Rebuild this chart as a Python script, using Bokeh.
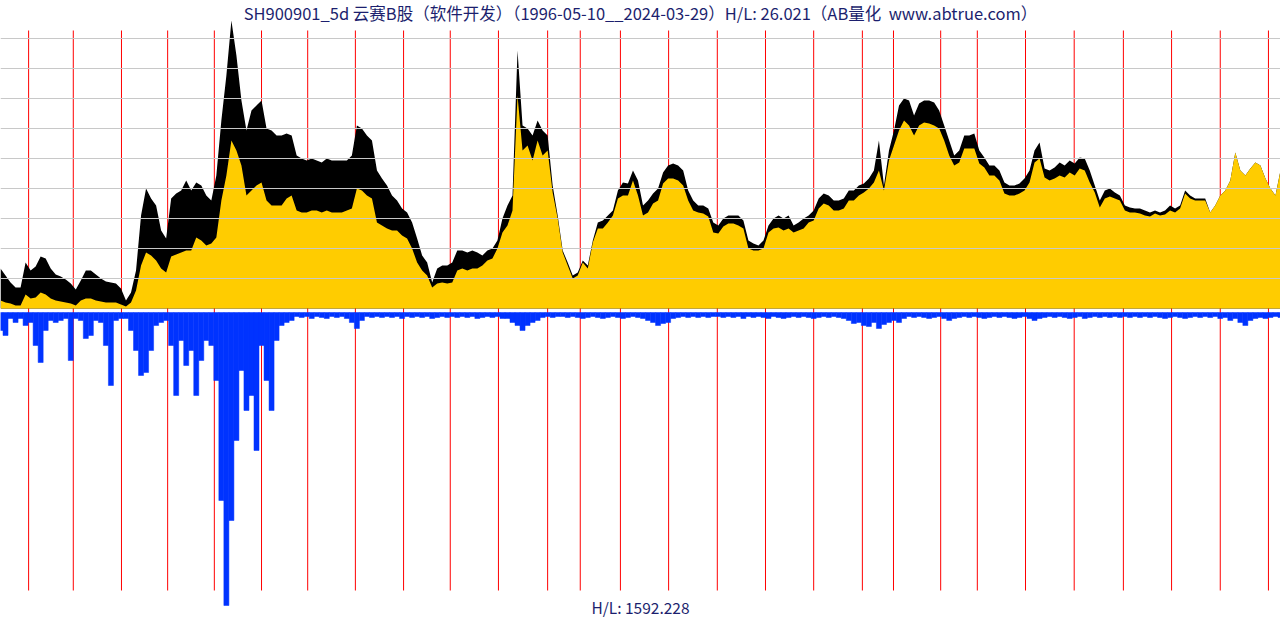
from bokeh.plotting import figure
from bokeh.models import Range1d, Span, Label
from bokeh.embed import file_html
from bokeh.resources import INLINE

# ---- data (relative price level above chart floor; one sample per ~1% of the timeline) ----
high_vals = [40, 33, 26, 21, 21, 46, 38, 42, 52, 50, 40, 34, 32, 29, 25, 19, 28, 38, 38, 34,
             30, 27, 26, 25, 20, 8, 16, 38, 93, 120, 110, 103, 78, 70, 110, 115, 118, 128, 118, 126,
             123, 113, 108, 133, 188, 233, 288, 253, 208, 178, 198, 203, 208, 180, 178, 173, 173, 175, 173, 153,
             150, 148, 150, 148, 146, 150, 148, 148, 148, 148, 153, 183, 180, 173, 168, 138, 130, 123, 113, 108,
             100, 96, 86, 70, 53, 46, 26, 40, 43, 43, 46, 58, 58, 56, 58, 56, 53, 58, 60, 68,
             90, 103, 113, 258, 183, 180, 173, 188, 178, 173, 123, 93, 58, 46, 33, 36, 48, 43, 68, 86,
             88, 93, 98, 118, 126, 125, 138, 128, 103, 108, 115, 120, 136, 143, 145, 143, 138, 118, 108, 103,
             103, 100, 86, 83, 90, 93, 93, 93, 88, 68, 65, 63, 68, 83, 90, 93, 90, 93, 83, 86,
             90, 93, 98, 110, 115, 113, 108, 108, 110, 118, 118, 123, 125, 130, 138, 168, 123, 158, 178, 203,
             210, 208, 193, 205, 208, 208, 206, 198, 183, 168, 153, 158, 173, 173, 175, 158, 151, 143, 143, 138,
             126, 123, 123, 125, 130, 138, 158, 166, 140, 138, 141, 146, 143, 148, 145, 151, 150, 138, 123, 108,
             118, 120, 116, 113, 103, 101, 100, 100, 98, 96, 98, 96, 98, 103, 100, 103, 118, 113, 110, 110,
             110, 96, 103, 113, 118, 128, 156, 138, 133, 140, 146, 143, 130, 120, 113, 138]

fill_vals = [8, 6, 5, 3, 3, 14, 10, 11, 16, 14, 10, 8, 7, 6, 5, 3, 8, 10, 10, 8,
             7, 6, 6, 6, 4, 2, 6, 18, 43, 56, 53, 48, 40, 36, 52, 54, 56, 58, 58, 71,
             68, 63, 65, 71, 108, 133, 168, 158, 143, 113, 118, 123, 126, 108, 103, 103, 103, 110, 113, 98,
             96, 96, 98, 98, 96, 98, 96, 96, 96, 98, 100, 120, 118, 113, 110, 86, 83, 80, 78, 78,
             73, 70, 60, 46, 38, 33, 21, 25, 26, 25, 26, 38, 40, 38, 40, 40, 43, 48, 50, 60,
             76, 83, 98, 213, 158, 163, 148, 168, 153, 158, 116, 90, 56, 43, 30, 33, 46, 40, 66, 80,
             80, 86, 93, 110, 113, 113, 128, 113, 93, 96, 105, 108, 125, 130, 130, 128, 123, 108, 98, 96,
             95, 92, 76, 75, 82, 85, 85, 83, 80, 60, 58, 58, 60, 76, 80, 81, 78, 80, 76, 78,
             80, 86, 88, 100, 105, 103, 98, 98, 100, 108, 108, 113, 116, 120, 126, 138, 118, 148, 163, 178,
             188, 183, 173, 183, 186, 185, 183, 180, 168, 153, 143, 146, 160, 160, 160, 145, 141, 133, 133, 128,
             115, 113, 113, 115, 118, 126, 146, 150, 131, 128, 130, 133, 131, 136, 133, 140, 138, 126, 116, 101,
             110, 112, 110, 108, 98, 96, 96, 95, 93, 92, 95, 93, 94, 98, 96, 100, 115, 110, 108, 108,
             108, 96, 103, 113, 118, 128, 156, 138, 133, 140, 146, 143, 130, 120, 113, 138]

volume_vals = [18, 23, 6, 10, 6, 13, 10, 33, 50, 18, 8, 10, 8, 6, 48, 6, 8, 26, 23, 8,
               10, 33, 73, 8, 6, 6, 18, 38, 63, 60, 38, 13, 10, 8, 33, 83, 28, 53, 38, 83,
               48, 28, 33, 68, 188, 293, 208, 128, 58, 98, 83, 138, 33, 68, 98, 28, 13, 10, 8, 4,
               5, 4, 6, 4, 5, 6, 4, 5, 4, 6, 10, 16, 8, 4, 5, 4, 5, 4, 5, 4,
               6, 4, 5, 4, 5, 4, 6, 5, 4, 5, 4, 5, 4, 5, 4, 6, 5, 4, 5, 4,
               6, 6, 10, 13, 18, 13, 10, 8, 5, 4, 5, 4, 4, 5, 4, 5, 6, 5, 4, 5,
               6, 5, 4, 5, 6, 5, 4, 5, 6, 8, 10, 13, 11, 10, 6, 5, 4, 5, 4, 5,
               4, 5, 4, 4, 5, 4, 5, 4, 6, 4, 5, 4, 5, 6, 4, 5, 6, 5, 4, 5,
               4, 5, 6, 5, 4, 5, 4, 5, 6, 8, 11, 10, 13, 14, 10, 16, 12, 10, 8, 10,
               6, 4, 5, 4, 5, 6, 5, 4, 6, 8, 6, 5, 4, 5, 4, 5, 6, 5, 4, 5,
               4, 5, 6, 5, 4, 6, 8, 6, 5, 4, 5, 4, 5, 6, 5, 4, 6, 5, 4, 5,
               4, 5, 4, 5, 4, 5, 4, 5, 4, 5, 4, 5, 6, 5, 4, 5, 6, 5, 4, 5,
               4, 5, 4, 6, 5, 8, 6, 10, 13, 8, 6, 5, 6, 5, 4, 5]

# sample index at which each new calendar year begins
year_labels = [1997, 1998, 1999, 2000, 2001, 2002, 2003, 2004, 2005, 2006, 2007, 2008, 2009, 2010,
               2011, 2012, 2013, 2014, 2015, 2016, 2017, 2018, 2019, 2020, 2021, 2022, 2023, 2024]
year_starts = [5.6, 14.5, 24.1, 33.3, 42.6, 52.0, 61.2, 70.7, 80.3, 89.6, 99.2, 109.0, 115.5, 123.5,
               133.1, 142.8, 152.4, 162.0, 171.7, 177.9, 187.3, 194.6, 204.2, 213.9, 223.7, 233.3, 243.0, 252.6]

grid_levels = [270, 240, 210, 180, 150, 120, 90, 60, 30]

title_text = "SH900901_5d 云赛B股（软件开发）（1996-05-10__2024-03-29）H/L: 26.021（AB量化\u00a0 www.abtrue.com）"
vol_text = "H/L: 1592.228"

idx = list(range(len(high_vals)))

p = figure(width=1280, height=620, output_backend="svg", toolbar_location=None,
           x_axis_location=None, y_axis_location=None,
           x_range=Range1d(0, 255), y_range=Range1d(-312, 308),
           min_border=0, outline_line_color=None, background_fill_color="white",
           border_fill_color="white")
p.xgrid.visible = False
p.ygrid.visible = False
p.extra_y_ranges = {"vol": Range1d(start=308, end=-312)}

for g in grid_levels:
    p.add_layout(Span(location=g, dimension="width", line_color="#c8c8c8", line_width=1))

p.segment(x0=year_starts, y0=[278] * len(year_starts), x1=year_starts, y1=[-282] * len(year_starts),
          line_color="#ff0000", line_width=1)

p.varea(x=idx, y1=[0] * len(idx), y2=high_vals, fill_color="#000000")
p.varea(x=idx, y1=[0] * len(idx), y2=fill_vals, fill_color="#ffcc00")

p.vbar(x=idx, width=1.0, top=[0] * len(idx), bottom=volume_vals, y_range_name="vol",
       fill_color="#0033ff", line_color="#0033ff", line_width=0.5)

p.add_layout(Label(x=640, y=608, x_units="screen", y_units="screen", text=title_text,
                   text_align="center", text_baseline="middle", text_font="Noto Sans CJK SC",
                   text_font_size="16.5px", text_color="#1c1f6e"))
p.add_layout(Label(x=640, y=3, x_units="screen", y_units="screen", text=vol_text,
                   text_align="center", text_baseline="bottom", text_font="Noto Sans CJK SC",
                   text_font_size="15.5px", text_color="#1c1f6e"))

open("out.html", "w").write(file_html(p, INLINE))
